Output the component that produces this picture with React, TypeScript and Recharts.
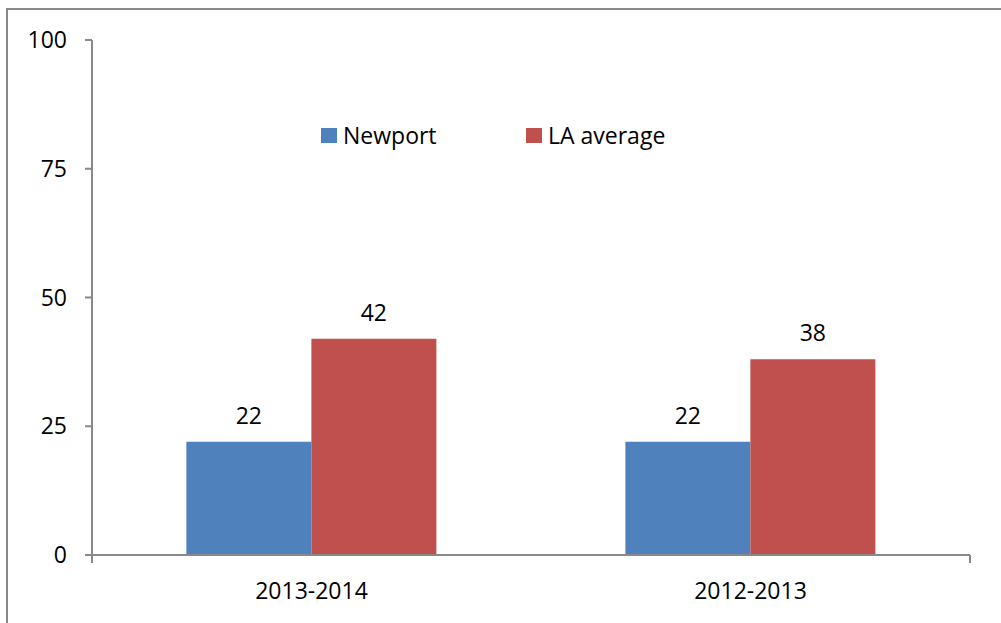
import React from "react";
import { BarChart, Bar, XAxis, YAxis, Legend, LabelList } from "recharts";

const categories = ["2013-2014", "2012-2013"];
const newportValues = [22, 22];
const laAverageValues = [42, 38];
const yTicks = [0, 25, 50, 75, 100];
const seriesNames = ["Newport", "LA average"];
const seriesColors = ["#4F81BD", "#C0504D"];

const data = categories.map((c, i) => ({
  category: c,
  newport: newportValues[i],
  la: laAverageValues[i],
}));

const FONT = "'Open Sans', sans-serif";
const AXIS = "#898989";

const LegendContent = () => (
  <div style={{ position: "relative", height: 24, fontFamily: FONT, fontSize: 23, color: "#000" }}>
    {seriesNames.map((n, i) => (
      <div
        key={n}
        style={{ position: "absolute", left: i * 205, top: 0, display: "flex", alignItems: "center", whiteSpace: "nowrap", lineHeight: "24px" }}
      >
        <span style={{ display: "inline-block", width: 16, height: 15, background: seriesColors[i], marginRight: 6 }} />
        <span>{n}</span>
      </div>
    ))}
  </div>
);

export default function App() {
  return (
    <div style={{ position: "absolute", left: 0, top: 0, width: 1001, height: 623, overflow: "hidden", background: "#fff" }}>
      <div
        style={{
          position: "absolute",
          left: 6,
          top: 8,
          width: 1100,
          height: 700,
          borderLeft: `2px solid ${AXIS}`,
          borderTop: `2px solid ${AXIS}`,
        }}
      />
      <div style={{ position: "absolute", left: 0, top: 0, fontFamily: FONT }}>
        <BarChart
          width={1001}
          height={623}
          data={data}
          margin={{ top: 40, right: 31, bottom: 28, left: 32 }}
          barGap={0}
          barCategoryGap="21.5%"
        >
          <XAxis
            xAxisId={0}
            type="number"
            domain={[0, 2]}
            ticks={[0, 1, 2]}
            height={1}
            stroke={AXIS}
            strokeWidth={2}
            tickSize={8}
            tickLine={{ stroke: AXIS, strokeWidth: 2 }}
            tickFormatter={() => ""}
          />
          <XAxis
            xAxisId={1}
            dataKey="category"
            height={39}
            axisLine={false}
            tickLine={false}
            tickSize={8}
            tickMargin={19}
            tick={{ fill: "#000", fontSize: 23, fontFamily: FONT }}
          />
          <YAxis
            domain={[0, 100]}
            ticks={yTicks}
            width={60}
            stroke={AXIS}
            strokeWidth={2}
            tickSize={7}
            tickMargin={18}
            tickLine={{ stroke: AXIS, strokeWidth: 2 }}
            tick={{ fill: "#000", fontSize: 23, fontFamily: FONT }}
          />
          <Legend
            verticalAlign="middle"
            layout="horizontal"
            content={<LegendContent />}
            wrapperStyle={{ position: "absolute", top: 123, left: 321, width: 400 }}
          />
          <Bar xAxisId={1} dataKey="newport" name={seriesNames[0]} fill={seriesColors[0]} isAnimationActive={false}>
            <LabelList dataKey="newport" position="top" offset={18} fill="#000" fontSize={23} fontFamily={FONT} />
          </Bar>
          <Bar xAxisId={1} dataKey="la" name={seriesNames[1]} fill={seriesColors[1]} isAnimationActive={false}>
            <LabelList dataKey="la" position="top" offset={18} fill="#000" fontSize={23} fontFamily={FONT} />
          </Bar>
        </BarChart>
      </div>
    </div>
  );
}
